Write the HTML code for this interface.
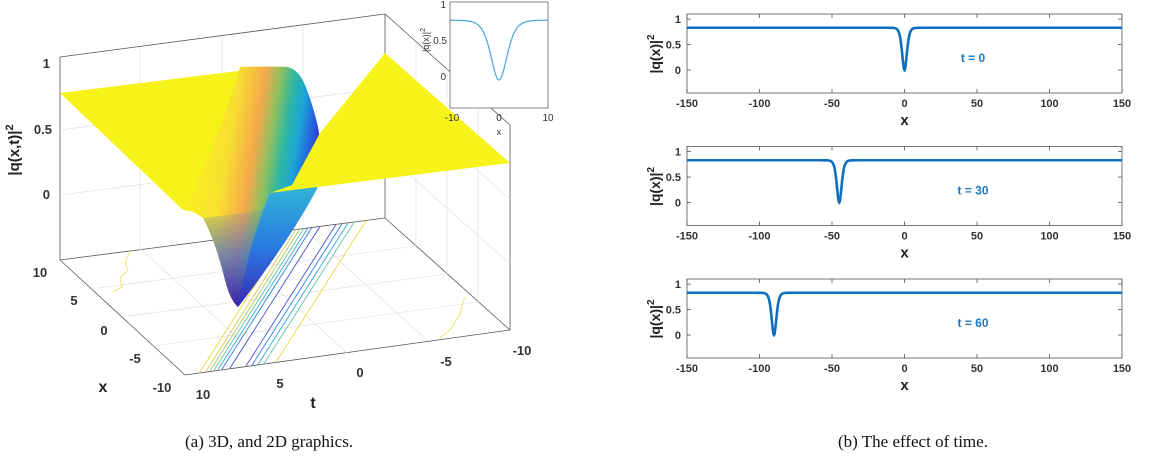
<!DOCTYPE html>
<html><head><meta charset="utf-8">
<style>
body{margin:0;background:#fff;width:1156px;height:470px;overflow:hidden;font-family:"Liberation Sans",sans-serif}
svg{position:absolute;left:0;top:0}
.cap{position:absolute;top:432px;font-family:"Liberation Serif",serif;font-size:17px;color:#111}
</style></head>
<body>
<svg id="chart3d" width="600" height="420" font-family="Liberation Sans" >
<defs>
<linearGradient id="dipg" gradientUnits="userSpaceOnUse" x1="190" y1="130" x2="320" y2="150">
<stop offset="0" stop-color="#f7f31a"/><stop offset="0.3" stop-color="#f8e030"/><stop offset="0.5" stop-color="#f5a94a"/><stop offset="0.62" stop-color="#8cc060"/><stop offset="0.72" stop-color="#30b8a0"/><stop offset="0.82" stop-color="#1aa5d8"/><stop offset="0.93" stop-color="#2858e0"/><stop offset="1" stop-color="#3a2ab8"/>
</linearGradient>
<linearGradient id="lowg" gradientUnits="userSpaceOnUse" x1="0" y1="200" x2="0" y2="307">
<stop offset="0" stop-color="#2a60e0" stop-opacity="0"/><stop offset="0.5" stop-color="#2a60e0" stop-opacity="0.6"/><stop offset="1" stop-color="#3a1fa8" stop-opacity="1"/>
</linearGradient>
<linearGradient id="riseg" gradientUnits="userSpaceOnUse" x1="0" y1="190" x2="0" y2="307">
<stop offset="0" stop-color="#30b0d8"/><stop offset="0.5" stop-color="#2a78e0"/><stop offset="1" stop-color="#3a2ab8"/>
</linearGradient>
</defs>
<g stroke="#555" stroke-width="0.8" fill="none">
<line x1="60" y1="57" x2="385" y2="14"/><line x1="60" y1="57" x2="60" y2="260"/>
<line x1="385" y1="14" x2="385" y2="218"/><line x1="385" y1="14" x2="510" y2="125"/>
<line x1="510" y1="125" x2="510" y2="330"/>
<line x1="60" y1="260" x2="385" y2="218"/><line x1="385" y1="218" x2="510" y2="330"/>
<line x1="60" y1="260" x2="185" y2="375"/><line x1="185" y1="375" x2="510" y2="330"/>
</g>
<g stroke="#ddd" stroke-width="0.6" fill="none">
<line x1="60" y1="130" x2="385" y2="88"/><line x1="60" y1="195" x2="385" y2="153"/>
<line x1="140" y1="47" x2="140" y2="250"/><line x1="222" y1="36" x2="222" y2="239"/><line x1="303" y1="25" x2="303" y2="228"/>
<line x1="385" y1="88" x2="510" y2="199"/><line x1="385" y1="153" x2="510" y2="264"/>
<line x1="416" y1="42" x2="416" y2="246"/><line x1="447" y1="69" x2="447" y2="274"/><line x1="478" y1="97" x2="478" y2="302"/>
<line x1="91" y1="289" x2="416" y2="246"/><line x1="122" y1="317" x2="447" y2="274"/><line x1="153" y1="346" x2="478" y2="302"/>
<line x1="141" y1="249" x2="266" y2="364"/><line x1="222" y1="239" x2="347" y2="353"/><line x1="303" y1="228" x2="428" y2="341"/>
</g>
<g id="contours" fill="none" stroke-width="0.9"></g>
<polyline points="130,252 125,262 128,270 120,278 122,287 113,292" fill="none" stroke="#f0e040" stroke-width="0.8"/>
<polyline points="465,297 462,305 460,315 455,322 450,330 440,338" fill="none" stroke="#f0e040" stroke-width="0.8"/>
<polygon points="60,93 270,67 260,130 215,215 183,210" fill="#f7f31a"/>
<path d="M240,67 Q270,66 288,67 Q300,70 307,90 Q318,120 320,140 Q320,170 313,187 Q290,240 238,307 Q230,300 225,280 Q215,240 203,218 Q192,210 183,210 Q215,150 240,67 Z" fill="url(#dipg)"/>
<path d="M203,218 Q230,215 260,210 Q290,200 313,187 Q290,240 238,307 Q230,300 225,280 Q215,240 203,218 Z" fill="url(#lowg)"/>
<polygon points="385,53 510,163 270,193 292,185 320,133" fill="#f7f31a"/>
<path d="M238,307 Q250,240 270,193 L318,187 Q290,240 238,307 Z" fill="url(#riseg)"/>
<g font-size="13" font-weight="bold" fill="#333" text-anchor="end">
<text x="50" y="68">1</text><text x="52" y="134">0.5</text><text x="50" y="199">0</text>
</g>
<g font-size="13" font-weight="bold" fill="#333" text-anchor="middle">
<text x="40" y="277">10</text><text x="74" y="305">5</text><text x="104" y="335">0</text><text x="135" y="363">-5</text><text x="162" y="392">-10</text>
</g>
<g font-size="13" font-weight="bold" fill="#333" text-anchor="middle">
<text x="203" y="399">10</text><text x="280" y="388">5</text><text x="360" y="377">0</text><text x="446" y="366">-5</text><text x="522" y="355">-10</text>
</g>
<text x="103" y="392" font-size="16" font-weight="bold" text-anchor="middle" fill="#222">x</text>
<text x="313" y="408" font-size="16" font-weight="bold" text-anchor="middle" fill="#222">t</text>
<text transform="translate(19,150) rotate(-90)" font-size="15" font-weight="bold" text-anchor="middle" fill="#222">|q(x,t)|<tspan dy="-6" font-size="11">2</tspan></text>
<g>
<rect x="450" y="2" width="98" height="106" fill="#fff" stroke="#666" stroke-width="0.8"/>
<path id="insetline" fill="none" stroke="#4da3de" stroke-width="1.2"/>
<g font-size="10" fill="#333"><text x="446" y="8" text-anchor="end">1</text><text x="447" y="44" text-anchor="end">0.5</text><text x="446" y="80" text-anchor="end">0</text>
<text x="452" y="121" text-anchor="middle">-10</text><text x="499" y="121" text-anchor="middle">0</text><text x="548" y="121" text-anchor="middle">10</text>
<text x="499" y="135" text-anchor="middle" font-size="9">x</text>
<text transform="translate(429,40) rotate(-90)" text-anchor="middle" font-size="9">|q(x)|<tspan dy="-4" font-size="7">2</tspan></text></g>
</g>
</svg>
<svg id="panels" width="1156" height="420" font-family="Liberation Sans"></svg>
<div class="cap" style="left:185px">(a) 3D, and 2D graphics.</div>
<div class="cap" style="left:838px">(b) The effect of time.</div>
<script>
const times=[0,30,60];
const dipCenters=[0,-45,-90];
const baseLevel=0.83;
const dipMin=0;
const xTicks=[-150,-100,-50,0,50,100,150];
const yTicks=[0,0.5,1];
const NS="http://www.w3.org/2000/svg";
function mk(p,t,a){const e=document.createElementNS(NS,t);for(const k in a)e.setAttribute(k,a[k]);p.appendChild(e);return e;}
function prof(x,c){const s=1/Math.cosh((x-c)/2.2);return baseLevel-(baseLevel-dipMin)*s*s;}
const svg=document.getElementById('panels');
const L=687,R=1122,top0=14,H=79,gap=132.5,ymin=-0.45,ymax=1.1;
times.forEach((t,i)=>{
 const T=top0+i*gap;
 const sx=v=>L+(v+150)/300*(R-L);
 const sy=v=>T+H-(v-ymin)/(ymax-ymin)*H;
 const g=mk(svg,'g',{});
 
 
 const box=mk(g,'rect',{x:L,y:T,width:R-L,height:H,fill:'none',stroke:'#555','stroke-width':0.8});
 
 
 xTicks.forEach(v=>{
  mk(g,'line',{x1:sx(v),x2:sx(v),y1:T,y2:T+4,stroke:'#555','stroke-width':0.8});
  mk(g,'line',{x1:sx(v),x2:sx(v),y1:T+H,y2:T+H-4,stroke:'#555','stroke-width':0.8});
  const tx=mk(g,'text',{x:sx(v),y:T+H+14,'font-size':11,'font-weight':'bold',fill:'#333','text-anchor':'middle'});tx.textContent=v;
  
  
 });
 yTicks.forEach(v=>{
  mk(g,'line',{x1:L,x2:L+4,y1:sy(v),y2:sy(v),stroke:'#555','stroke-width':0.8});
  mk(g,'line',{x1:R,x2:R-4,y1:sy(v),y2:sy(v),stroke:'#555','stroke-width':0.8});
  const tx=mk(g,'text',{x:L-6,y:sy(v)+4,'font-size':11,'font-weight':'bold',fill:'#333','text-anchor':'end'});tx.textContent=v;
  
  
 });
 let d='';
 for(let x=-150;x<=150;x+=0.25){d+=(x==-150?'M':'L')+sx(x).toFixed(2)+','+sy(prof(x,dipCenters[i])).toFixed(2);}
 const p=mk(g,'path',{d:d,fill:'none',stroke:'#0f6fbf','stroke-width':2.6});
 
 
 const lb=mk(g,'text',{x:973,y:T+48,'font-size':12,'font-weight':'bold',fill:'#1a78c2','text-anchor':'middle'});lb.textContent='t = '+t;
 
 
 const xt=mk(g,'text',{x:(L+R)/2,y:T+H+32,'font-size':15,'font-weight':'bold',fill:'#222','text-anchor':'middle'});xt.textContent='x';
 
 
 const yt=mk(g,'text',{transform:`translate(${L-27},${T+40}) rotate(-90)`,'font-size':14,'font-weight':'bold',fill:'#222','text-anchor':'middle'});
 yt.innerHTML='|q(x)|<tspan dy="-6" font-size="10">2</tspan>';
 
 
});
// inset
let d='';for(let x=-10;x<=10;x+=0.1){const X=450+(x+10)/20*98,Y=80-prof(x,0)/1*72;d+=(x==-10?'M':'L')+X.toFixed(2)+','+Y.toFixed(2);}
document.getElementById('insetline').setAttribute('d',d);
// floor contours
const cg=document.getElementById('contours');
const cCols=['#e8d840','#d8c850','#a8c860','#60c0a0','#30a8d0','#3080e0','#4050d0','#4050d0','#3080e0','#30a8d0','#60c0a0','#e8d840'];
const cOff=[0,6,10,14,18,22,30,46,52,58,64,76];
cOff.forEach((o,k)=>{const l=mk(cg,'line',{x1:200+o,y1:372-o*0.13,x2:290+o,y2:230-o*0.12,stroke:cCols[k]});
 
 });
</script>
</body></html>
